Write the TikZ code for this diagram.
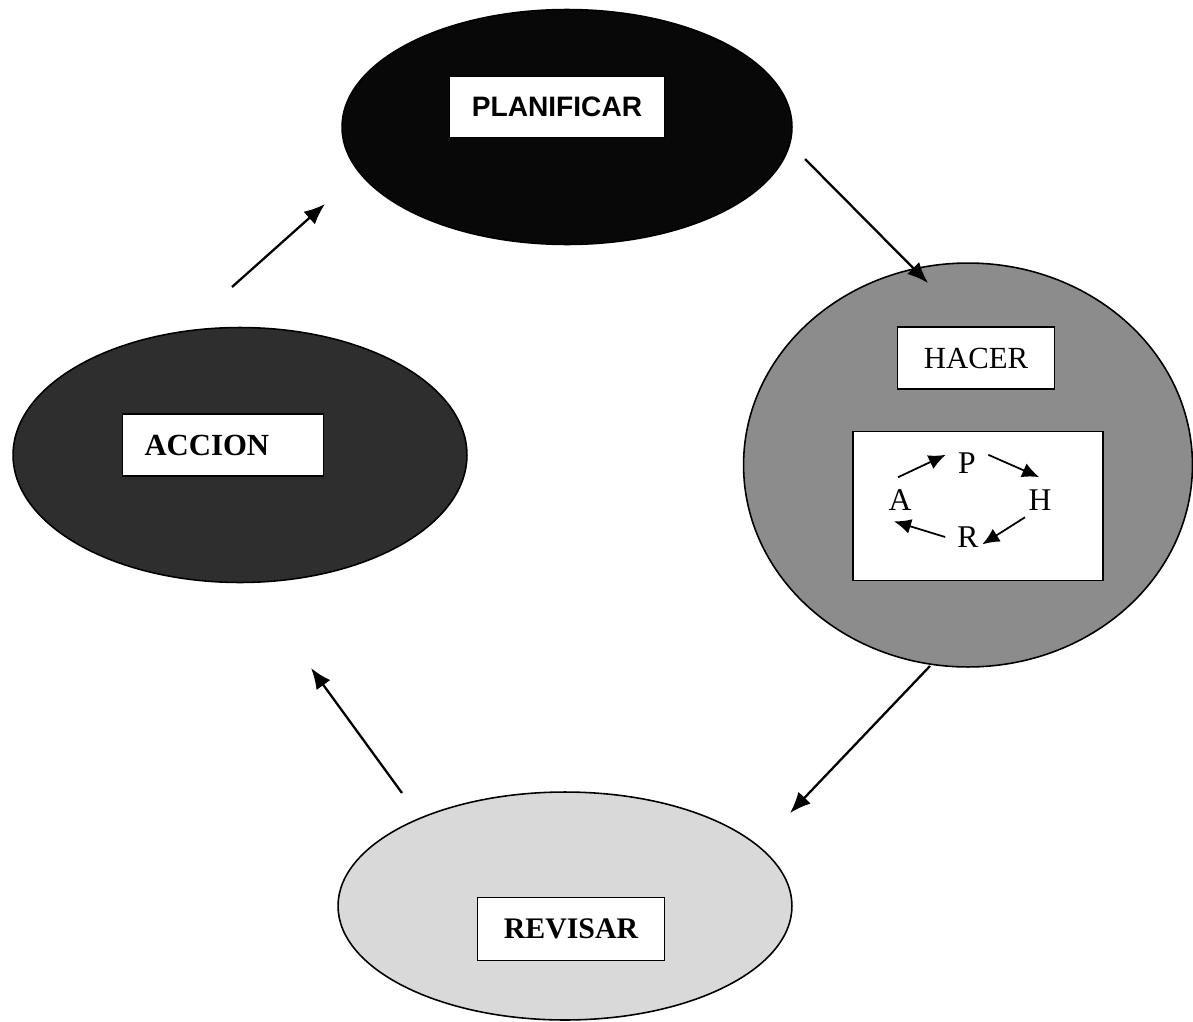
\documentclass[tikz,border=0pt]{standalone}
\usepackage{fontspec}
\setmainfont{Liberation Serif}
\newfontfamily\arialfont{Liberation Sans}
\usetikzlibrary{shapes.geometric,arrows.meta}

\begin{document}
\begin{tikzpicture}[x=0.02cm, y=-0.02cm, font=\fontsize{17.5}{21}\selectfont,
  fase/.style={ellipse, draw, line width=0.9pt, inner sep=0pt},
  caja/.style={draw, fill=white, line width=0.9pt, inner sep=0pt},
  letra/.style={circle, minimum size=0.9cm, inner sep=0pt, font=\fontsize{18}{21}\selectfont}]

\useasboundingbox (0,0) rectangle (1193,1021);

\node[fase, fill=black!97, minimum width=9cm, minimum height=4.7cm] (planificar) at (567,127) {};
\node[fase, fill=black!45, minimum width=8.98cm, minimum height=8.08cm] (hacer) at (968,465) {};
\node[fase, fill=black!82, minimum width=9.08cm, minimum height=5.1cm] (accion) at (240,455) {};
\node[fase, fill=black!15, minimum width=9.08cm, minimum height=4.56cm] (revisar) at (565,906) {};

\node[caja, minimum width=4.3cm, minimum height=1.22cm, font=\arialfont\bfseries\fontsize{16}{20}\selectfont] (tplan) at (557,107) {PLANIFICAR};
\node[caja, minimum width=3.14cm, minimum height=1.24cm] (thacer) at (976,358) {HACER};
\node[caja, text width=3.14cm, inner xsep=0.44cm, align=left, minimum height=1.24cm, font=\bfseries\fontsize{17.5}{21}\selectfont] (taccion) at (223,445) {ACCION};
\node[caja, minimum width=3.74cm, minimum height=1.26cm, font=\bfseries\fontsize{17}{21}\selectfont] (trevisar) at (571,929) {REVISAR};

\node[caja, minimum width=5cm, minimum height=2.98cm] (ciclo) at (978,506) {};
\node[letra] (la) at (900,500) {A};
\node[letra] (lp) at (967,463) {P};
\node[letra] (lh) at (1040,500) {H};
\node[letra] (lr) at (968,537) {R};

\coordinate (c1) at (232,287);
\coordinate (c2) at (325,204);
\coordinate (c3) at (805,159);
\coordinate (c4) at (928,283);
\coordinate (c5) at (930,666);
\coordinate (c6) at (790,813);
\coordinate (c7) at (402,793);
\coordinate (c8) at (311,668);

\begin{scope}[-{Latex[length=0.42cm,width=0.34cm]}, line width=1.3pt]
\foreach \a/\b in {c1/c2,c3/c4,c5/c6,c7/c8}
\draw (\a)--(\b);
\end{scope}

\begin{scope}[-{Latex[length=0.34cm,width=0.3cm]}, line width=1pt]
\draw (la.95)--(lp.159);
\draw (lp.21)--(lh.92);
\draw[shorten >=-2mm] (lh.229)--(lr.-5);
\draw[shorten >=-1mm] (lr.180)--(la.267);
\end{scope}
\end{tikzpicture}
\end{document}
